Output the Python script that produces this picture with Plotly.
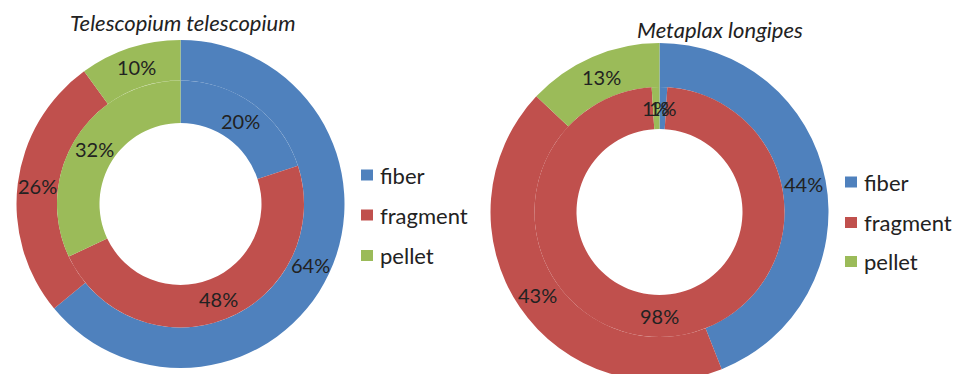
import math
import plotly.graph_objects as go

# Microplastic type composition per species (percent)
categories = ["fiber", "fragment", "pellet"]
colors = ["#4F81BD", "#C0504D", "#9BBB59"]

species = ["Telescopium telescopium", "Metaplax longipes"]
tele_outer = [64, 26, 10]
tele_inner = [20, 48, 32]
meta_outer = [44, 43, 13]
meta_inner = [1, 98, 1]

W, H = 959, 400
FONT = "Lato"
TEXT = "#222222"


def domain(cx, cy, r):
    return dict(x=[(cx - r) / W, (cx + r) / W],
                y=[1 - (cy + r) / H, 1 - (cy - r) / H])


def ring(values, cx, cy, r_out, r_in):
    return go.Pie(
        labels=categories, values=values, sort=False,
        direction="clockwise", rotation=0,
        hole=r_in / r_out, domain=domain(cx, cy, r_out),
        marker=dict(colors=colors, line=dict(width=0)),
        textinfo="none", hoverinfo="label+percent",
        showlegend=False,
    )


def ring_labels(fig, values, cx, cy, r_out, r_in):
    # percent labels at the middle of each slice, halfway across the ring
    total = sum(values)
    r_mid = (r_out + r_in) / 2
    start = 0.0
    for v in values:
        sweep = 360.0 * v / total
        ang = math.radians(start + sweep / 2)
        start += sweep
        px = cx + r_mid * math.sin(ang)
        py = cy - r_mid * math.cos(ang)
        fig.add_annotation(
            text=f"{round(100 * v / total)}%", x=px / W, y=1 - py / H,
            xref="paper", yref="paper", showarrow=False,
            xanchor="center", yanchor="middle",
            font=dict(family=FONT, size=20, color=TEXT),
        )


# donut geometry: centre, outer radius, ring boundary, hole radius
donuts = [
    (tele_outer, tele_inner, 180.5, 204, 164, 123.5, 81),
    (meta_outer, meta_inner, 659.5, 212, 169, 125, 83),
]

fig = go.Figure()
for outer, inner, cx, cy, R, Rm, Rh in donuts:
    fig.add_trace(ring(outer, cx, cy, R, Rm))
    fig.add_trace(ring(inner, cx, cy, Rm, Rh))
for outer, inner, cx, cy, R, Rm, Rh in donuts:
    ring_labels(fig, outer, cx, cy, R, Rm)
    ring_labels(fig, inner, cx, cy, Rm, Rh)

# titles
titles_pos = [(183, 22), (720, 29)]
for name, (tx, ty) in zip(species, titles_pos):
    fig.add_annotation(
        text=f"<i>{name}</i>", x=tx / W, y=1 - ty / H,
        xref="paper", yref="paper", showarrow=False,
        xanchor="center", yanchor="middle",
        font=dict(family=FONT, size=22, color=TEXT),
    )

# legends beside each donut
legend_pos = [(361, [175, 215, 255.5]), (845, [182, 222.5, 261.5])]
for lx, rows in legend_pos:
    for cat, col, ly in zip(categories, colors, rows):
        fig.add_shape(
            type="rect", xref="paper", yref="paper",
            x0=lx / W, x1=(lx + 12) / W,
            y0=1 - (ly + 5.5) / H, y1=1 - (ly - 5.5) / H,
            fillcolor=col, line=dict(width=0),
        )
        fig.add_annotation(
            text=cat, x=(lx + 17) / W, y=1 - ly / H,
            xref="paper", yref="paper", showarrow=False,
            xanchor="left", yanchor="middle",
            font=dict(family=FONT, size=22, color=TEXT),
        )

fig.update_layout(
    width=W, height=H,
    margin=dict(l=0, r=0, t=0, b=0),
    paper_bgcolor="white", plot_bgcolor="white",
    showlegend=False,
)

fig.write_html("out.html")
